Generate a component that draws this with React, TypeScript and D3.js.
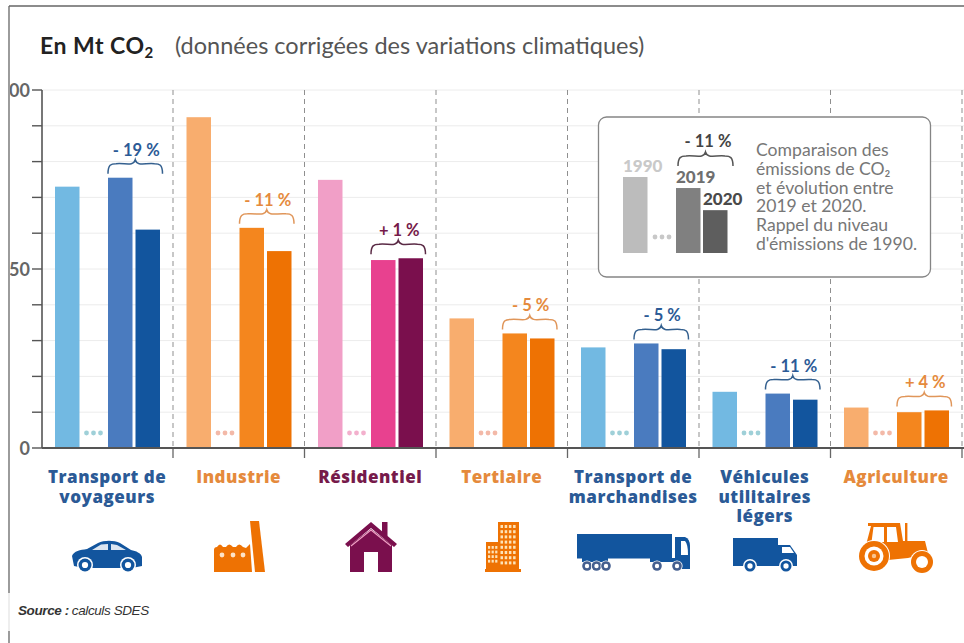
import React from "react";
import * as d3 from "d3";

const categories = [
  ["Transport de", "voyageurs"],
  ["Industrie"],
  ["Résidentiel"],
  ["Tertiaire"],
  ["Transport de", "marchandises"],
  ["Véhicules", "utilitaires", "légers"],
  ["Agriculture"],
];
const values1990 = [73, 92.4, 74.9, 36.2, 28.1, 15.7, 11.3];
const values2019 = [75.5, 61.5, 52.5, 32, 29.2, 15.2, 10];
const values2020 = [61, 55, 53, 30.6, 27.6, 13.5, 10.5];
const changes = ["- 19 %", "- 11 %", "+ 1 %", "- 5 %", "- 5 %", "- 11 %", "+ 4 %"];
const palettes = ["blue", "orange", "pink", "orange", "blue", "blue", "orange"];
const yTicks = d3.range(0, 101, 10);
const yLabels = [0, 50, 100];
const noteLines = [
  "Comparaison des",
  "émissions de CO₂",
  "et évolution entre",
  "2019 et 2020.",
  "Rappel du niveau",
  "d'émissions de 1990.",
];

const colors: Record<string, any> = {
  blue: { bars: ["#72b9e2", "#4a7bbf", "#12559e"], text: "#2b5a96", brace: "#34608f", dots: "#9fd0d8", icon: "#12559e" },
  orange: { bars: ["#f8ad6e", "#f4861e", "#ee7203"], text: "#e58a3c", brace: "#e0965a", dots: "#f3b9a8", icon: "#ee7203" },
  pink: { bars: ["#f19fc7", "#e8418f", "#7a0f4d"], text: "#761a4a", brace: "#5a2a45", dots: "#f3b0cd", icon: "#7a0f4d" },
};

const y = d3.scaleLinear().domain([0, 100]).range([448, 90]);
const xCat = d3.scaleLinear().domain([0, 7]).range([41.5, 962]);
const W = 24.5;
const slots = [13.5, 66.5, 94];

const FONT = "Lato, 'Open Sans', sans-serif";
const LABEL_FONT = "'Open Sans', Lato, sans-serif";

function bracePath(x0: number, x1: number, bottom: number, h = 14) {
  const m = (x0 + x1) / 2;
  const s = bottom - h + 4;
  const t = bottom - h;
  return `M${x0},${bottom} C${x0},${s + 1} ${x0 + 3},${s} ${x0 + 8},${s}
    C${m - 10},${s - 1} ${m - 2},${s + 3} ${m},${t}
    C${m + 2},${s + 3} ${m + 10},${s - 1} ${x1 - 8},${s}
    C${x1 - 3},${s} ${x1},${s + 1} ${x1},${bottom}`;
}

const Wheel = ({ cx, cy, r, c }: any) => (
  <g>
    <circle cx={cx} cy={cy} r={r + 1.5} fill="#fff" />
    <circle cx={cx} cy={cy} r={r} fill={c} />
    <circle cx={cx} cy={cy} r={r * 0.48} fill="#fff" />
  </g>
);

const Car = ({ c }: any) => (
  <g>
    <path d="M72,556 C74,551 80,550 87,549 L98,543 C104,540 114,540 120,543 L131,550 C136,551 141,553 142,557 L142,566 L132,568 L84,568 L74,566 Z" fill={c} />
    <path d="M92,550 L101,544.5 L108,544 L108,550 Z M111,544 L117,545 L126,550 L111,550 Z" fill="#fff" opacity="0.85" />
    <Wheel cx={85} cy={565} r={6.5} c={c} />
    <Wheel cx={128} cy={565} r={6.5} c={c} />
  </g>
);

const Factory = ({ c }: any) => (
  <g fill={c}>
    <path d="M214,572 L214,550 Q214,547 217,547 Q220,542 223,547 L226,547 Q229,542 233,547 L236,547 Q239,542 243,547 L246,548 L250,544 L252,572 Z" />
    <path d="M250,521 L259,521 L265,572 L255,572 Z" />
    <circle cx={222} cy={555} r={2.4} fill="#fde3c8" />
    <circle cx={233} cy={555} r={2.4} fill="#fde3c8" />
    <circle cx={243} cy={555} r={2.4} fill="#fde3c8" />
  </g>
);

const House = ({ c }: any) => (
  <g>
    <rect x={382} y={522} width={5.5} height={14} fill={c} />
    <path d="M350,545 L371,529 L392,545 L392,572 L378,572 L378,552 L364,552 L364,572 L350,572 Z" fill={c} />
    <path d="M345,544 L371,522 L397,544 L394,547 L371,528 L348,547 Z" fill={c} />
    <path d="M351,546 L371,530 L391,546" fill="none" stroke="#f0a0c4" strokeWidth="1.2" />
  </g>
);

const Building = ({ c }: any) => {
  const cols = d3.range(0, 4);
  const rows = d3.range(0, 8);
  return (
    <g>
      <rect x={498} y={522} width={21} height={50} fill={c} />
      <rect x={486} y={542} width={13} height={30} fill={c} />
      <rect x={485} y={569} width={36} height={3} fill={c} />
      {rows.map((r) =>
        cols.map((q) => <rect key={`${r}-${q}`} x={500.5 + q * 4.2} y={525 + r * 5.2} width={2.5} height={3} fill="#fde3b8" />)
      )}
      {d3.range(0, 4).map((r) =>
        d3.range(0, 3).map((q) => <rect key={`s${r}-${q}`} x={488 + q * 3.6} y={546 + r * 4.6} width={2.2} height={2.8} fill="#fde3b8" />)
      )}
    </g>
  );
};

const Truck = ({ c }: any) => (
  <g>
    <rect x={577} y={534} width={95} height={24.5} fill={c} />
    <rect x={582} y={558} width={26} height={4} fill={c} />
    <rect x={650} y={558} width={25} height={4} fill={c} />
    <path d="M675,537 L685,537 Q690,539 690,546 L690,569 L675,569 Z" fill={c} />
    <path d="M681,541 L685,541 Q688,544 688,555 L681,555 Z" fill="#fff" />
    {[587, 596.5, 606, 657, 677].map((cx) => (
      <g key={cx}>
        <circle cx={cx} cy={566} r={5.6} fill="#fff" />
        <circle cx={cx} cy={566} r={4.8} fill="#445f8f" />
        <circle cx={cx} cy={566} r={2.2} fill="#fff" />
      </g>
    ))}
  </g>
);

const Van = ({ c }: any) => (
  <g>
    <rect x={733} y={538} width={45} height={28} fill={c} />
    <path d="M778,545 L790,545 L797,555 L797,566 L778,566 Z" fill={c} />
    <path d="M782,547 L790,547 L794,553 L782,553 Z" fill="#fff" />
    <Wheel cx={750} cy={566} r={5.5} c={c} />
    <Wheel cx={786} cy={566} r={5.5} c={c} />
  </g>
);

const Tractor = ({ c }: any) => (
  <g>
    <path d="M868,523 L900,523 L903,541 L925,541 L928,553 L908,558 L888,560 L866,545 L871,526 L868,526 Z" fill={c} />
    <path d="M873.5,527 L884,527 L884,542 L871.5,542 Z M887,527 L896,527 L898,542 L887,542 Z" fill="#fff" />
    <rect x={905} y={523} width={2.4} height={18} fill={c} />
    <circle cx={874} cy={556} r={16} fill="#fff" />
    <circle cx={874} cy={556} r={15} fill={c} />
    <circle cx={874} cy={556} r={9.5} fill="#fff" />
    <circle cx={874} cy={556} r={6} fill={c} />
    <circle cx={874} cy={556} r={2.2} fill="#f9c490" />
    <circle cx={922} cy={562} r={12} fill="#fff" />
    <circle cx={922} cy={562} r={11} fill={c} />
    <circle cx={922} cy={562} r={6} fill="#fff" />
  </g>
);

const icons = [Car, Factory, House, Building, Truck, Van, Tractor];

const legendY = d3.scaleLinear().domain([0, 100]).range([253, 151]);
const legendBars = [
  { label: "1990", value: 74.5, x: 623, fill: "#bcbcbc", text: "#c9c9c9", lx: 623 },
  { label: "2019", value: 63.7, x: 676, fill: "#808080", text: "#6f6f6f", lx: 676 },
  { label: "2020", value: 42, x: 703, fill: "#5e5e5e", text: "#4a4a4a", lx: 703 },
];

export default function App() {
  return (
    <svg
      width={964}
      height={643}
      style={{ position: "absolute", left: 0, top: 0, display: "block", background: "#fff" }}
      fontFamily={FONT}
    >
      <defs>
        <clipPath id="frameClip">
          <rect x={10} y={0} width={954} height={643} />
        </clipPath>
      </defs>

      {/* frame */}
      <line x1={9} x2={964} y1={6} y2={6} stroke="#666" strokeWidth={1.3} />
      <line x1={9} x2={9} y1={6} y2={593} stroke="#666" strokeWidth={1.3} />
      <line x1={9} x2={9} y1={593} y2={631} stroke="#ddd" strokeWidth={1} />
      <line x1={9} x2={9} y1={631} y2={643} stroke="#666" strokeWidth={1.3} />

      {/* title */}
      <text x={40} y={54} fontSize={23} fill="#222" letterSpacing={0.5}>
        <tspan fontWeight={700}>En Mt CO</tspan>
        <tspan fontWeight={700} fontSize={15} dy={4}>2</tspan>
      </text>
      <text x={175} y={54} fontSize={23.5} fill="#555" fontWeight={400}>
        (données corrigées des variations climatiques)
      </text>

      {/* grid */}
      {yTicks.filter((t) => t > 0).map((t) => (
        <line key={t} x1={42} x2={964} y1={y(t)} y2={y(t)} stroke="#ececec" strokeWidth={1} />
      ))}

      {/* separators */}
      {d3.range(1, 8).map((i) => (
        <g key={i}>
          <line x1={xCat(i)} x2={xCat(i)} y1={y(100)} y2={y(0)} stroke="#8f8f8f" strokeWidth={1} strokeDasharray="5 4" />
          <line x1={xCat(i)} x2={xCat(i)} y1={y(0)} y2={y(0) + 10} stroke="#666" strokeWidth={1.3} />
        </g>
      ))}

      {/* bars */}
      {categories.map((_, i) => {
        const p = colors[palettes[i]];
        const x0 = xCat(i);
        const vals = [values1990[i], values2019[i], values2020[i]];
        const top = y(Math.max(values2019[i], values2020[i]));
        const bl = x0 + slots[1];
        const br = x0 + slots[2] + W + 2.5;
        return (
          <g key={i}>
            {vals.map((v, k) => (
              <rect key={k} x={x0 + slots[k]} y={y(v)} width={W} height={y(0) - y(v)} fill={p.bars[k]} />
            ))}
            {[0, 1, 2].map((d) => (
              <circle key={d} cx={x0 + 45 + d * 7} cy={433} r={2.4} fill={p.dots} />
            ))}
            <path d={bracePath(bl, br, top - 4)} fill="none" stroke={p.brace} strokeWidth={1.5} />
            <text x={(bl + br) / 2 + 1} y={top - 22} textAnchor="middle" fontSize={16.5} fontWeight={700} fill={p.text}>
              {changes[i]}
            </text>
          </g>
        );
      })}

      {/* axes */}
      <line x1={42} x2={964} y1={y(0)} y2={y(0)} stroke="#555" strokeWidth={2} />
      <line x1={42} x2={42} y1={y(100)} y2={y(0)} stroke="#555" strokeWidth={1.6} />
      {yTicks.map((t) => (
        <line key={t} x1={32} x2={42} y1={y(t)} y2={y(t)} stroke="#555" strokeWidth={1.4} />
      ))}
      <g clipPath="url(#frameClip)">
        {yLabels.map((t) => (
          <text key={t} x={30} y={y(t) + 6.5} textAnchor="end" fontSize={18} fontWeight={700} fill="#666">
            {t}
          </text>
        ))}
      </g>

      {/* category labels and icons */}
      {categories.map((lines, i) => {
        const p = colors[palettes[i]];
        const Icon = icons[i];
        return (
          <g key={i}>
            <text textAnchor="middle" fontFamily={LABEL_FONT} fontSize={17} fontWeight={800} letterSpacing={0.5} fill={p.text}>
              {lines.map((l, k) => (
                <tspan key={k} x={xCat(i) + 65.7} y={483 + k * 19.5}>
                  {l}
                </tspan>
              ))}
            </text>
            <Icon c={p.icon} />
          </g>
        );
      })}

      {/* legend box */}
      <rect x={598.5} y={117} width={332} height={160} rx={8} fill="#fff" stroke="#858585" strokeWidth={1.3} />
      {legendBars.map((b) => (
        <g key={b.label}>
          <rect x={b.x} y={legendY(b.value)} width={24.5} height={legendY(0) - legendY(b.value)} fill={b.fill} />
          <text x={b.lx} y={legendY(b.value) - 5} fontSize={17} fontWeight={900} fill={b.text}>
            {b.label}
          </text>
        </g>
      ))}
      {[0, 1, 2].map((d) => (
        <circle key={d} cx={655 + d * 7} cy={237} r={2.4} fill="#c8c8c8" />
      ))}
      <path d={bracePath(678, 733, 166)} fill="none" stroke="#555" strokeWidth={1.5} />
      <text x={708} y={147} textAnchor="middle" fontSize={16.5} fontWeight={700} fill="#444">
        - 11 %
      </text>
      <text fontSize={17.6} fill="#777">
        {noteLines.map((l, k) => (
          <tspan key={k} x={756} y={156 + k * 18.8}>
            {l}
          </tspan>
        ))}
      </text>

      {/* source */}
      <text x={18} y={615} fontFamily="'Liberation Sans', Arial, sans-serif" fontSize={13.5} fontStyle="italic" letterSpacing={-0.4} fill="#333">
        <tspan fontWeight={700}>Source :</tspan>
        <tspan dx={3}>calculs SDES</tspan>
      </text>
    </svg>
  );
}
